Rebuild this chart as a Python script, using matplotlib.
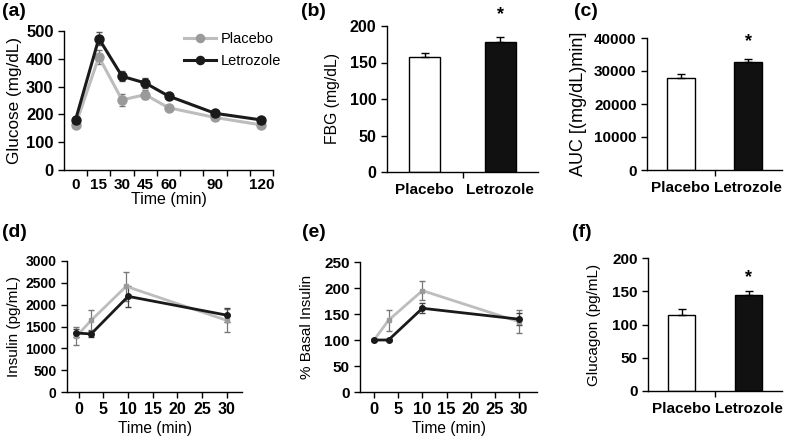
import matplotlib.pyplot as plt
import numpy as np

plt.rcParams['font.family'] = ['Liberation Sans', 'DejaVu Sans']

# (a) glucose tolerance test
gtt_time = [0, 15, 30, 45, 60, 90, 120]
gtt_placebo = [162, 407, 252, 271, 224, 189, 162]
gtt_placebo_err = [8, 25, 22, 15, 8, 8, 8]
gtt_letrozole = [181, 473, 337, 313, 266, 204, 180]
gtt_letrozole_err = [8, 25, 18, 18, 8, 8, 8]

# (b) fasting blood glucose
groups = ['Placebo', 'Letrozole']
fbg = [157, 178]
fbg_err = [6, 7]

# (c) glucose AUC
auc = [28000, 32800]
auc_err = [1000, 800]

# (d) insulin
ins_time_placebo = [-0.5, 2.5, 9.6, 30]
ins_time_letrozole = [-0.5, 2.5, 10, 30]
ins_placebo = [1275, 1640, 2420, 1640]
ins_placebo_err = [210, 230, 330, 260]
ins_letrozole = [1350, 1330, 2190, 1760]
ins_letrozole_err = [100, 60, 240, 160]

# (e) % basal insulin
basal_time = [0, 3, 10, 30]
basal_placebo = [100, 138, 195, 135]
basal_placebo_err = [2, 20, 19, 22]
basal_letrozole = [100, 100, 161, 140]
basal_letrozole_err = [2, 2, 10, 12]

# (f) glucagon
glucagon = [115, 145]
glucagon_err = [8, 6]

GRAY_LINE = '#bdbdbd'
GRAY_MK = '#9a9a9a'
DARK = '#1a1a1a'
W, H = 792, 443


def box(l, t, r, b):
    return [l / W, 1 - b / H, (r - l) / W, (b - t) / H]


def style(ax, ysize=11, xsize=11):
    for s in ['top', 'right']:
        ax.spines[s].set_visible(False)
    for s in ['left', 'bottom']:
        ax.spines[s].set_linewidth(1.0)
    ax.tick_params(direction='out', length=4, width=1)
    ax.tick_params(axis='y', labelsize=ysize)
    ax.tick_params(axis='x', labelsize=xsize)
    for lab in ax.get_xticklabels() + ax.get_yticklabels():
        lab.set_fontweight('bold')


def bar_panel(ax, vals, errs, ylim, yticks, ysize):
    x = np.arange(len(groups))
    ax.bar(x, vals, width=0.41, color=['white', '#111111'], edgecolor='black', linewidth=1)
    ax.errorbar(x, vals, yerr=[[0, 0], errs], fmt='none', ecolor='black', elinewidth=1,
                capsize=3, capthick=1)
    ax.set_xlim(-0.5, 1.5)
    ax.set_ylim(*ylim)
    ax.set_yticks(yticks)
    ax.set_xticks([0.5])
    ax.set_xticklabels([''])
    ax.set_xticks(x, minor=True)
    ax.set_xticklabels(groups, minor=True)
    ax.tick_params(axis='x', which='minor', length=0, pad=8)
    style(ax, ysize=ysize)
    for lab in ax.get_xticklabels(minor=True):
        lab.set_fontweight('bold')
        lab.set_fontsize(11)


fig = plt.figure(figsize=(7.92, 4.43), dpi=100)

# (a)
ax = fig.add_axes(box(64, 31, 273, 170))
ax.errorbar(gtt_time, gtt_placebo, yerr=gtt_placebo_err, color=GRAY_LINE, lw=2.2,
            marker='o', ms=6.5, mfc=GRAY_MK, mec=GRAY_MK, ecolor='#777777', elinewidth=0.9,
            capsize=2, label='Placebo')
ax.errorbar(gtt_time, gtt_letrozole, yerr=gtt_letrozole_err, color=DARK, lw=2.2,
            marker='o', ms=6.5, ecolor='#555555', elinewidth=0.9, capsize=2, label='Letrozole')
ax.set_xlim(-7.5, 127.5)
ax.set_ylim(0, 500)
ax.set_yticks(range(0, 501, 100))
ax.set_xticks(np.arange(7.5, 128, 15))
ax.set_xticklabels([''] * 9)
ax.set_xticks(gtt_time, minor=True)
ax.set_xticklabels([str(t) for t in gtt_time], minor=True)
ax.tick_params(axis='x', which='minor', length=0, pad=6)
style(ax, ysize=12)
for lab in ax.get_xticklabels(minor=True):
    lab.set_fontweight('bold')
    lab.set_fontsize(11)
ax.set_xlabel('Time (min)', fontsize=11.5, fontweight='normal', labelpad=0)
ax.set_ylabel('Glucose (mg/dL)', fontsize=12.3, labelpad=3)
h, l = ax.get_legend_handles_labels()
ax.legend([hh[0] for hh in h], l, loc='upper right', bbox_to_anchor=(1.10, 1.09),
          frameon=False, fontsize=10.5, handlelength=2.2, handletextpad=0.3,
          labelspacing=0.55, markerscale=0.9)

# (b)
ax = fig.add_axes(box(387, 26, 538, 172))
bar_panel(ax, fbg, fbg_err, (0, 200), range(0, 201, 50), 11.5)
ax.set_ylabel('FBG (mg/dL)', fontsize=11.3, labelpad=7)
ax.text(1, 216, '*', ha='center', va='center', fontsize=13, fontweight='bold', clip_on=False)

# (c)
ax = fig.add_axes(box(647, 38, 782, 170))
bar_panel(ax, auc, auc_err, (0, 40000), range(0, 40001, 10000), 11)
ax.set_ylabel('AUC [(mg/dL)min]', fontsize=13, labelpad=5)
ax.text(1, 39000, '*', ha='center', va='center', fontsize=13, fontweight='bold', clip_on=False)

# (d)
ax = fig.add_axes(box(67, 261, 242, 392))
ax.errorbar(ins_time_placebo, ins_placebo, yerr=ins_placebo_err, color=GRAY_LINE, lw=2,
            marker='s', ms=3.5, mfc=GRAY_MK, mec=GRAY_MK, ecolor='#777777', elinewidth=0.9,
            capsize=2)
ax.errorbar(ins_time_letrozole, ins_letrozole, yerr=ins_letrozole_err, color=DARK, lw=2,
            marker='o', ms=4, ecolor='#444444', elinewidth=0.9, capsize=2)
ax.set_xlim(-2.4, 33.1)
ax.set_ylim(0, 3000)
ax.set_xticks(range(0, 31, 5))
ax.set_yticks(range(0, 3001, 500))
style(ax, ysize=10, xsize=11.5)
ax.set_xlabel('Time (min)', fontsize=11.2, fontweight='normal', labelpad=2.5)
ax.set_ylabel('Insulin (pg/mL)', fontsize=11, labelpad=3)

# (e)
ax = fig.add_axes(box(360, 262, 537, 392))
ax.errorbar(basal_time, basal_placebo, yerr=basal_placebo_err, color=GRAY_LINE, lw=2,
            marker='s', ms=3.5, mfc=GRAY_MK, mec=GRAY_MK, ecolor='#777777', elinewidth=0.9,
            capsize=2)
ax.errorbar(basal_time, basal_letrozole, yerr=basal_letrozole_err, color=DARK, lw=2,
            marker='o', ms=4, ecolor='#444444', elinewidth=0.9, capsize=2)
ax.set_xlim(-2.9, 33.7)
ax.set_ylim(0, 250)
ax.set_xticks(range(0, 31, 5))
ax.set_yticks(range(0, 251, 50))
style(ax, ysize=11, xsize=12)
ax.set_xlabel('Time (min)', fontsize=11.2, fontweight='normal', labelpad=2.5)
ax.set_ylabel('% Basal Insulin', fontsize=11, labelpad=7)

# (f)
ax = fig.add_axes(box(648, 258, 782, 391))
bar_panel(ax, glucagon, glucagon_err, (0, 200), range(0, 201, 50), 11)
ax.set_ylabel('Glucagon (pg/mL)', fontsize=11, labelpad=8)
ax.text(1, 171, '*', ha='center', va='center', fontsize=13, fontweight='bold', clip_on=False)

# panel letters
for lab, x, y in [('(a)', 2, 12), ('(b)', 301, 12), ('(c)', 574, 12),
                  ('(d)', 2, 233), ('(e)', 302, 233), ('(f)', 572, 233)]:
    fig.text(x / W, 1 - y / H, lab, fontsize=14, fontweight='bold', va='center', ha='left')

fig.savefig('out.png', dpi=100)
